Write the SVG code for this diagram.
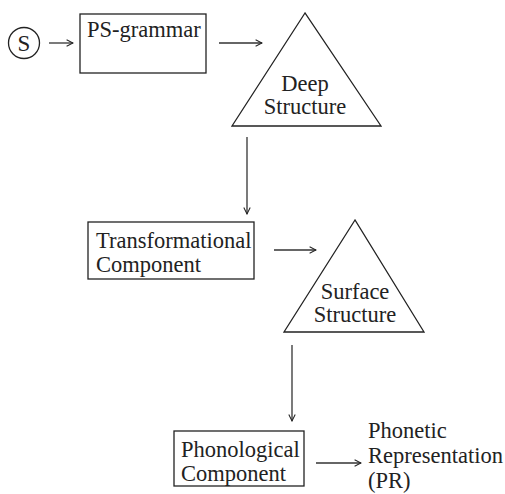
<svg xmlns="http://www.w3.org/2000/svg" width="505" height="494" viewBox="0 0 505 494">
  <defs>
    <marker id="arrow" viewBox="0 0 10 10" refX="9" refY="5" markerWidth="8" markerHeight="8" markerUnits="userSpaceOnUse" orient="auto">
      <path d="M1,1 L9,5 L1,9" fill="none" stroke="#222" stroke-width="1.3"/>
    </marker>
  </defs>
  <style>
    .shape { fill: #fff; stroke: #222; stroke-width: 1.3; }
    .edge { fill: none; stroke: #333; stroke-width: 1.3; marker-end: url(#arrow); }
    text { font-family: "Liberation Serif", "Times New Roman", serif; font-size: 22.5px; fill: #222; }
    .mid { text-anchor: middle; }
  </style>
  <rect width="505" height="494" fill="#fff"/>

  <g id="start">
    <circle class="shape" cx="24" cy="43" r="15.5"/>
    <text class="mid" x="24" y="51" style="font-size:23px">S</text>
  </g>

  <g id="ps-grammar">
    <rect class="shape" x="80" y="14" width="126" height="59"/>
    <text x="87" y="37">PS-grammar</text>
  </g>

  <g id="deep-structure">
    <polygon class="shape" points="305,13 232,126 381,126"/>
    <text class="mid" x="305" y="91">Deep</text>
    <text class="mid" x="305" y="114">Structure</text>
  </g>

  <g id="transformational-component">
    <rect class="shape" x="88" y="222" width="166" height="57"/>
    <text x="96" y="248">Transformational</text>
    <text x="96" y="272">Component</text>
  </g>

  <g id="surface-structure">
    <polygon class="shape" points="355,220 284,332 424,332"/>
    <text class="mid" x="355" y="299">Surface</text>
    <text class="mid" x="355" y="322">Structure</text>
  </g>

  <g id="phonological-component">
    <rect class="shape" x="174" y="431" width="130" height="55"/>
    <text x="181" y="457">Phonological</text>
    <text x="181" y="481">Component</text>
  </g>

  <g id="phonetic-representation">
    <text x="368" y="438">Phonetic</text>
    <text x="368" y="463">Representation</text>
    <text x="368" y="488">(PR)</text>
  </g>

  <g id="connectors">
    <line class="edge" x1="49" y1="43" x2="73" y2="43"/>
    <line class="edge" x1="219" y1="43" x2="262" y2="43"/>
    <line class="edge" x1="247" y1="137" x2="247" y2="214"/>
    <line class="edge" x1="274" y1="250" x2="316" y2="250"/>
    <line class="edge" x1="292" y1="345" x2="292" y2="421"/>
    <line class="edge" x1="316" y1="463" x2="361" y2="463"/>
  </g>
</svg>
